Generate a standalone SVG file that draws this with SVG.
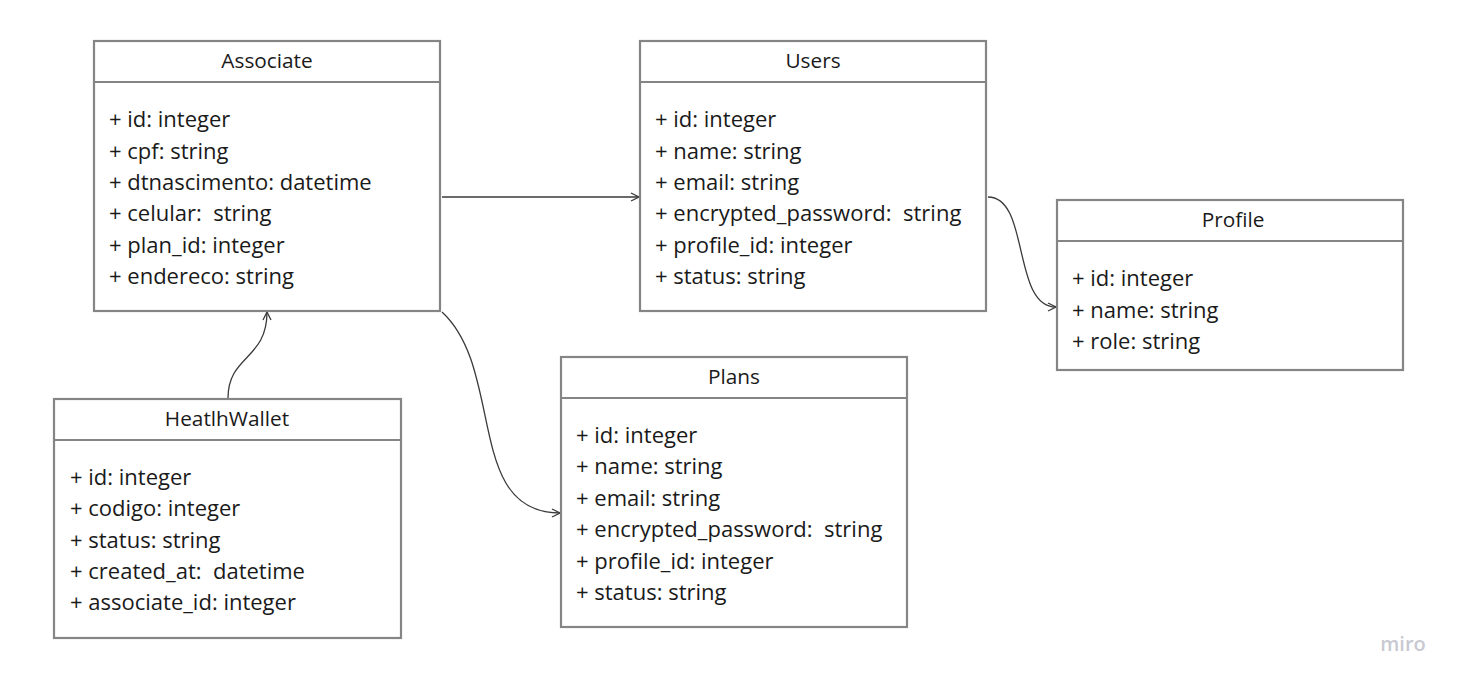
<svg xmlns="http://www.w3.org/2000/svg" width="1460" height="684" viewBox="0 0 1460 684">
<defs>
<style>
.box{fill:#fff;stroke:#858585;stroke-width:2.2}
.sep{stroke:#858585;stroke-width:2.2}
.t{font-family:"Open Sans","Noto Sans",sans-serif;font-size:20.8px;fill:#1a1a1a}
.c{text-anchor:middle}
.a{font-family:"Open Sans","Noto Sans",sans-serif;font-size:22px;fill:#1a1a1a;white-space:pre}
.con{fill:none;stroke:#3a3a3a;stroke-width:1.3}
</style>
<marker id="arr" viewBox="0 0 10 10" refX="9" refY="5" markerWidth="10" markerHeight="10" markerUnits="userSpaceOnUse" orient="auto">
<path d="M1,1 L9,5 L1,9" fill="none" stroke="#3a3a3a" stroke-width="1.3"/>
</marker>
</defs>
<rect width="1460" height="684" fill="#fff"/>
<g id="connectors">
<path class="con" d="M442,197 L639,197" marker-end="url(#arr)"/>
<path class="con" d="M988,197 C1030,197 1012,307 1056,307" marker-end="url(#arr)"/>
<path class="con" d="M228,398 C228,355 267,360 267,312" marker-end="url(#arr)"/>
<path class="con" d="M442,312 C505,370 465,513 560,513" marker-end="url(#arr)"/>
</g>
<g id="associate">
<rect class="box" x="94" y="41" width="346" height="270"/>
<line class="sep" x1="94" y1="82" x2="440" y2="82"/>
<text class="t c" x="267" y="68">Associate</text>
<text class="a" x="109" y="127">+ id: integer</text>
<text class="a" x="109" y="159">+ cpf: string</text>
<text class="a" x="109" y="190">+ dtnascimento: datetime</text>
<text class="a" x="109" y="221" xml:space="preserve">+ celular:  string</text>
<text class="a" x="109" y="253">+ plan_id: integer</text>
<text class="a" x="109" y="284">+ endereco: string</text>
</g>
<g id="users">
<rect class="box" x="640" y="41" width="346" height="270"/>
<line class="sep" x1="640" y1="82" x2="986" y2="82"/>
<text class="t c" x="813" y="68">Users</text>
<text class="a" x="655" y="127">+ id: integer</text>
<text class="a" x="655" y="159">+ name: string</text>
<text class="a" x="655" y="190">+ email: string</text>
<text class="a" x="655" y="221" xml:space="preserve">+ encrypted_password:  string</text>
<text class="a" x="655" y="253">+ profile_id: integer</text>
<text class="a" x="655" y="284">+ status: string</text>
</g>
<g id="profile">
<rect class="box" x="1057" y="200" width="346" height="170"/>
<line class="sep" x1="1057" y1="241" x2="1403" y2="241"/>
<text class="t c" x="1233" y="227">Profile</text>
<text class="a" x="1072" y="286">+ id: integer</text>
<text class="a" x="1072" y="318">+ name: string</text>
<text class="a" x="1072" y="349">+ role: string</text>
</g>
<g id="plans">
<rect class="box" x="561" y="357" width="346" height="270"/>
<line class="sep" x1="561" y1="398" x2="907" y2="398"/>
<text class="t c" x="734" y="384">Plans</text>
<text class="a" x="576" y="443">+ id: integer</text>
<text class="a" x="576" y="474">+ name: string</text>
<text class="a" x="576" y="506">+ email: string</text>
<text class="a" x="576" y="537" xml:space="preserve">+ encrypted_password:  string</text>
<text class="a" x="576" y="569">+ profile_id: integer</text>
<text class="a" x="576" y="600">+ status: string</text>
</g>
<g id="healthwallet">
<rect class="box" x="54" y="399" width="347" height="239"/>
<line class="sep" x1="54" y1="440" x2="401" y2="440"/>
<text class="t c" x="227" y="426">HeatlhWallet</text>
<text class="a" x="70" y="485">+ id: integer</text>
<text class="a" x="70" y="516">+ codigo: integer</text>
<text class="a" x="70" y="548">+ status: string</text>
<text class="a" x="70" y="579" xml:space="preserve">+ created_at:  datetime</text>
<text class="a" x="70" y="610">+ associate_id: integer</text>
</g>
<text x="1403" y="651" text-anchor="middle" font-family="'Open Sans',sans-serif" font-size="20" font-weight="600" fill="#c9c9d2">miro</text>
</svg>
